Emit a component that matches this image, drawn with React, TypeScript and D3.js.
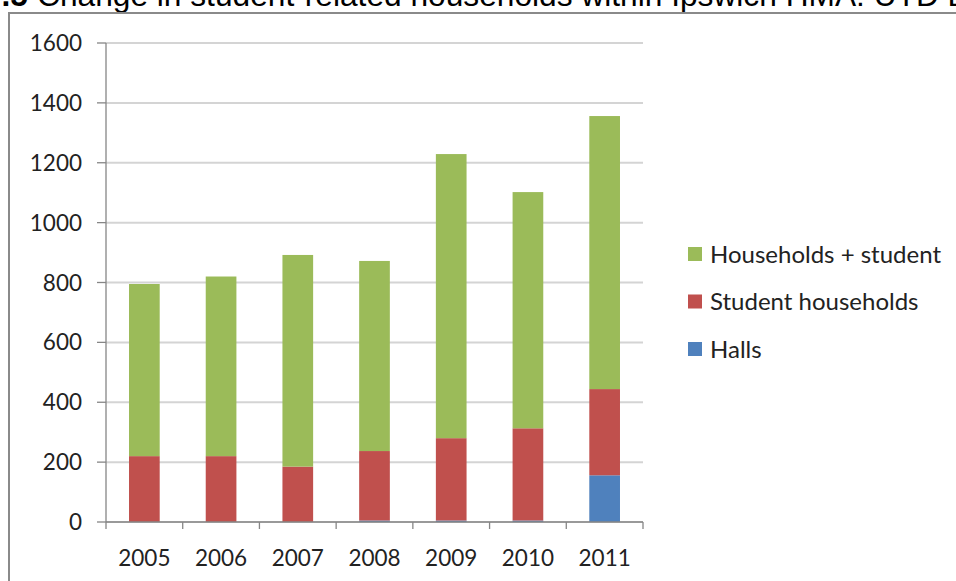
import React from "react";
import * as d3 from "d3";

const years = ["2005", "2006", "2007", "2008", "2009", "2010", "2011"];
const halls = [0, 0, 0, 5, 5, 5, 156];
const studentHouseholds = [220, 220, 185, 232, 275, 308, 288];
const householdsPlusStudent = [575, 600, 707, 635, 949, 789, 912];
const yTicks = [0, 200, 400, 600, 800, 1000, 1200, 1400, 1600];
const seriesKeys = ["Halls", "Student households", "Households + student"];
const seriesColors = ["#4F81BD", "#C0504D", "#9BBB59"];
const legendOrder = ["Households + student", "Student households", "Halls"];
const titleNumber = ".5";
const titleText = "Change in student-related households within Ipswich HMA: UTD Data";

export default function App() {
  const W = 956, H = 581;
  const left = 106, right = 643, top = 43, bottom = 522;
  const x = d3.scaleBand<string>().domain(years).range([left, right]).padding(0);
  const y = d3.scaleLinear().domain([0, 1600]).range([bottom, top]);
  const rows = years.map((yr, i) => ({
    year: yr,
    "Halls": halls[i],
    "Student households": studentHouseholds[i],
    "Households + student": householdsPlusStudent[i],
  }));
  const stacked = d3.stack<any>().keys(seriesKeys)(rows);
  const color = d3.scaleOrdinal<string, string>().domain(seriesKeys).range(seriesColors);
  const bw = x.bandwidth() * 0.4;
  const font = "Lato, 'Open Sans', sans-serif";

  return (
    <svg width={W} height={H} style={{ position: "absolute", left: 0, top: 0, background: "#fff" }}>
      <text x={28} y={6} fontFamily="'Liberation Sans', Arial, sans-serif" fontSize={31.7} fontWeight="bold" fill="#000" textAnchor="end">
        {titleNumber}
      </text>
      <text x={37} y={6} fontFamily="'Liberation Sans', Arial, sans-serif" fontSize={31.7} fill="#000" textAnchor="start">
        {titleText}
      </text>
      <rect x={9} y={13} width={1000} height={700} fill="none" stroke="#8a8a8a" strokeWidth={2} />
      {/* gridlines */}
      {yTicks.map((t) => (
        <line key={"g" + t} x1={left} x2={right} y1={y(t)} y2={y(t)} stroke="#d4d4d4" strokeWidth={2} />
      ))}
      {/* bars */}
      {stacked.map((s) => (
        <g key={s.key} fill={color(s.key)}>
          {s.map((d, i) => (
            <rect key={i} x={(x(years[i]) as number) + (x.bandwidth() - bw) / 2} width={bw}
              y={y(d[1])} height={Math.max(0, y(d[0]) - y(d[1]))} />
          ))}
        </g>
      ))}
      {/* y axis */}
      <line x1={left} x2={left} y1={top} y2={bottom} stroke="#868686" strokeWidth={1.3} />
      {yTicks.map((t) => (
        <line key={"yt" + t} x1={left - 9} x2={left} y1={y(t)} y2={y(t)} stroke="#868686" strokeWidth={1.3} />
      ))}
      {yTicks.map((t) => (
        <text key={"yl" + t} x={82} y={y(t)} dy="0.36em" textAnchor="end" fontFamily={font} fontSize={22.5} fill="#222">
          {t}
        </text>
      ))}
      {/* x axis */}
      <line x1={left} x2={right} y1={bottom} y2={bottom} stroke="#868686" strokeWidth={1.3} />
      {[...years.map((yr) => x(yr) as number), right].map((v, i) => (
        <line key={"xt" + i} x1={v} x2={v} y1={bottom} y2={bottom + 7} stroke="#868686" strokeWidth={1.3} />
      ))}
      {years.map((yr) => (
        <text key={"xl" + yr} x={(x(yr) as number) + x.bandwidth() / 2} y={566} textAnchor="middle" fontFamily={font} fontSize={22.5} fill="#222">
          {yr}
        </text>
      ))}
      {/* legend */}
      {legendOrder.map((k, i) => (
        <g key={k} transform={`translate(688, ${254 + i * 47.5})`}>
          <rect x={0} y={-7} width={14} height={14} fill={color(k)} />
          <text x={22} y={0} dy="0.36em" fontFamily={font} fontSize={24} fill="#222">{k}</text>
        </g>
      ))}
    </svg>
  );
}
